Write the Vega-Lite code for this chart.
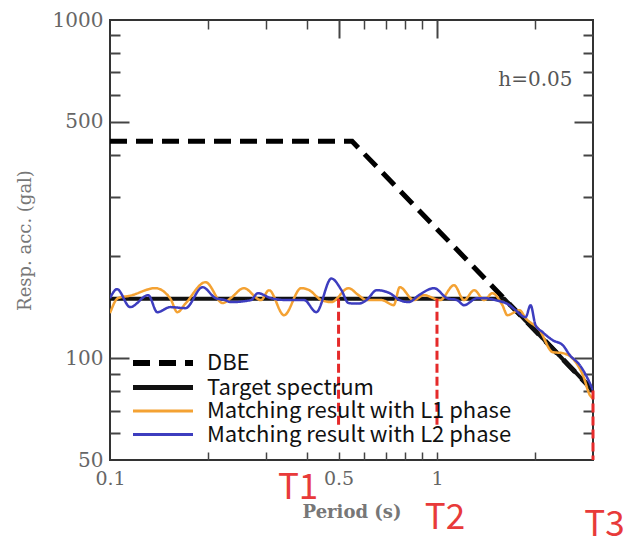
{
  "$schema": "https://vega.github.io/schema/vega-lite/v6.json",
  "width": 483,
  "height": 440,
  "autosize": "none",
  "padding": {"left": 110, "top": 20, "right": 41, "bottom": 84},
  "background": "white",
  "config": {"view": {"stroke": "#333333", "strokeWidth": 2}},
  "datasets": {
    "dbe": [
      {"series": "DBE", "T": 0.1, "V": 438},
      {"series": "DBE", "T": 0.55, "V": 438},
      {"series": "DBE", "T": 3.0, "V": 80.3}
    ],
    "target": [
      {"series": "Target spectrum", "T": 0.1, "V": 150},
      {"series": "Target spectrum", "T": 1.606, "V": 150},
      {"series": "Target spectrum", "T": 3.0, "V": 80.3}
    ],
    "l1": [
      {"series": "Matching result with L1 phase", "T": 0.1, "V": 135.9},
      {"series": "Matching result with L1 phase", "T": 0.1058, "V": 150.5},
      {"series": "Matching result with L1 phase", "T": 0.1152, "V": 153},
      {"series": "Matching result with L1 phase", "T": 0.1375, "V": 161.1},
      {"series": "Matching result with L1 phase", "T": 0.153, "V": 150},
      {"series": "Matching result with L1 phase", "T": 0.1607, "V": 136.8},
      {"series": "Matching result with L1 phase", "T": 0.1701, "V": 145},
      {"series": "Matching result with L1 phase", "T": 0.196, "V": 167.8},
      {"series": "Matching result with L1 phase", "T": 0.2211, "V": 145.5},
      {"series": "Matching result with L1 phase", "T": 0.234, "V": 150.5},
      {"series": "Matching result with L1 phase", "T": 0.2566, "V": 161.1},
      {"series": "Matching result with L1 phase", "T": 0.2895, "V": 148.5},
      {"series": "Matching result with L1 phase", "T": 0.3064, "V": 158.9},
      {"series": "Matching result with L1 phase", "T": 0.3406, "V": 134},
      {"series": "Matching result with L1 phase", "T": 0.3842, "V": 161.1},
      {"series": "Matching result with L1 phase", "T": 0.4067, "V": 158.9},
      {"series": "Matching result with L1 phase", "T": 0.4429, "V": 148.5},
      {"series": "Matching result with L1 phase", "T": 0.4753, "V": 146.5},
      {"series": "Matching result with L1 phase", "T": 0.5362, "V": 161.1},
      {"series": "Matching result with L1 phase", "T": 0.5754, "V": 153.6},
      {"series": "Matching result with L1 phase", "T": 0.6089, "V": 148.5},
      {"series": "Matching result with L1 phase", "T": 0.6773, "V": 148.5},
      {"series": "Matching result with L1 phase", "T": 0.7374, "V": 143.5},
      {"series": "Matching result with L1 phase", "T": 0.7694, "V": 162.2},
      {"series": "Matching result with L1 phase", "T": 0.8495, "V": 148.5},
      {"series": "Matching result with L1 phase", "T": 0.912, "V": 153.6},
      {"series": "Matching result with L1 phase", "T": 1.0214, "V": 148.5},
      {"series": "Matching result with L1 phase", "T": 1.128, "V": 164.4},
      {"series": "Matching result with L1 phase", "T": 1.21, "V": 148.5},
      {"series": "Matching result with L1 phase", "T": 1.3, "V": 158.9},
      {"series": "Matching result with L1 phase", "T": 1.395, "V": 148.5},
      {"series": "Matching result with L1 phase", "T": 1.476, "V": 155.7},
      {"series": "Matching result with L1 phase", "T": 1.585, "V": 143.5},
      {"series": "Matching result with L1 phase", "T": 1.642, "V": 134},
      {"series": "Matching result with L1 phase", "T": 1.788, "V": 138.7},
      {"series": "Matching result with L1 phase", "T": 1.866, "V": 131.3},
      {"series": "Matching result with L1 phase", "T": 2.06, "V": 121},
      {"series": "Matching result with L1 phase", "T": 2.259, "V": 104.2},
      {"series": "Matching result with L1 phase", "T": 2.424, "V": 103.5},
      {"series": "Matching result with L1 phase", "T": 2.658, "V": 97.3},
      {"series": "Matching result with L1 phase", "T": 2.794, "V": 89.1},
      {"series": "Matching result with L1 phase", "T": 2.936, "V": 77.7},
      {"series": "Matching result with L1 phase", "T": 3.0, "V": 76.1}
    ],
    "l2": [
      {"series": "Matching result with L2 phase", "T": 0.1, "V": 150.5},
      {"series": "Matching result with L2 phase", "T": 0.1051, "V": 160},
      {"series": "Matching result with L2 phase", "T": 0.1152, "V": 141.6},
      {"series": "Matching result with L2 phase", "T": 0.1309, "V": 153.6},
      {"series": "Matching result with L2 phase", "T": 0.1395, "V": 136.8},
      {"series": "Matching result with L2 phase", "T": 0.153, "V": 141.6},
      {"series": "Matching result with L2 phase", "T": 0.1701, "V": 140.6},
      {"series": "Matching result with L2 phase", "T": 0.1919, "V": 162.2},
      {"series": "Matching result with L2 phase", "T": 0.2104, "V": 150.5},
      {"series": "Matching result with L2 phase", "T": 0.225, "V": 148.5},
      {"series": "Matching result with L2 phase", "T": 0.234, "V": 146.5},
      {"series": "Matching result with L2 phase", "T": 0.2697, "V": 148.5},
      {"series": "Matching result with L2 phase", "T": 0.2834, "V": 155.7},
      {"series": "Matching result with L2 phase", "T": 0.3106, "V": 150.5},
      {"series": "Matching result with L2 phase", "T": 0.3504, "V": 148.5},
      {"series": "Matching result with L2 phase", "T": 0.3925, "V": 148.5},
      {"series": "Matching result with L2 phase", "T": 0.4274, "V": 136.8},
      {"series": "Matching result with L2 phase", "T": 0.4753, "V": 172},
      {"series": "Matching result with L2 phase", "T": 0.5104, "V": 158.9},
      {"series": "Matching result with L2 phase", "T": 0.5362, "V": 145.5},
      {"series": "Matching result with L2 phase", "T": 0.5754, "V": 145},
      {"series": "Matching result with L2 phase", "T": 0.6089, "V": 148.5},
      {"series": "Matching result with L2 phase", "T": 0.6539, "V": 158.9},
      {"series": "Matching result with L2 phase", "T": 0.7168, "V": 155.7},
      {"series": "Matching result with L2 phase", "T": 0.7694, "V": 148.5},
      {"series": "Matching result with L2 phase", "T": 0.82, "V": 146.5},
      {"series": "Matching result with L2 phase", "T": 0.8805, "V": 153.6},
      {"series": "Matching result with L2 phase", "T": 0.979, "V": 161.1},
      {"series": "Matching result with L2 phase", "T": 1.0735, "V": 150.5},
      {"series": "Matching result with L2 phase", "T": 1.152, "V": 148.5},
      {"series": "Matching result with L2 phase", "T": 1.21, "V": 143.5},
      {"series": "Matching result with L2 phase", "T": 1.328, "V": 150.5},
      {"series": "Matching result with L2 phase", "T": 1.395, "V": 150.5},
      {"series": "Matching result with L2 phase", "T": 1.508, "V": 148.5},
      {"series": "Matching result with L2 phase", "T": 1.666, "V": 143.5},
      {"series": "Matching result with L2 phase", "T": 1.738, "V": 138.7},
      {"series": "Matching result with L2 phase", "T": 1.866, "V": 132.2},
      {"series": "Matching result with L2 phase", "T": 1.933, "V": 143.5},
      {"series": "Matching result with L2 phase", "T": 2.002, "V": 125.2},
      {"series": "Matching result with L2 phase", "T": 2.104, "V": 119.4},
      {"series": "Matching result with L2 phase", "T": 2.259, "V": 113},
      {"series": "Matching result with L2 phase", "T": 2.424, "V": 109.3},
      {"series": "Matching result with L2 phase", "T": 2.548, "V": 102.1},
      {"series": "Matching result with L2 phase", "T": 2.735, "V": 95.3},
      {"series": "Matching result with L2 phase", "T": 2.854, "V": 89.1},
      {"series": "Matching result with L2 phase", "T": 3.0, "V": 80.4}
    ],
    "marks": [
      {"name": "T1", "T": 0.5, "V": 150, "V2": 62},
      {"name": "T2", "T": 1.0, "V": 150, "V2": 62},
      {"name": "T3", "T": 3.0, "V": 80.3, "V2": 50}
    ],
    "labels": [
      {"label": "T1", "T": 0.376, "V": 41.2},
      {"label": "T2", "T": 1.058, "V": 33.8},
      {"label": "T3", "T": 3.25, "V": 32.1}
    ],
    "note": [
      {"label": "h=0.05", "T": 2.0, "V": 664}
    ]
  },
  "resolve": {"axis": {"x": "independent", "y": "independent"}},
  "layer": [
    {
      "data": {"name": "dbe"},
      "mark": {"type": "line", "strokeWidth": 5, "clip": true},
      "encoding": {
        "x": {"field": "T", "type": "quantitative",
          "scale": {"type": "log", "domain": [0.1, 3], "nice": false},
          "axis": {"orient": "bottom", "values": [0.1, 0.5, 1], "format": "~g", "ticks": false, "domain": false, "grid": false,
            "labelFont": "DejaVu Serif", "labelFontSize": 19, "labelColor": "#666666", "labelPadding": 9, "labelFlush": false, "labelOverlap": false,
            "title": "Period (s)", "titleFont": "DejaVu Serif", "titleFontSize": 18, "titleFontWeight": "bold", "titleColor": "#777777", "titlePadding": 15}},
        "y": {"field": "V", "type": "quantitative",
          "scale": {"type": "log", "domain": [50, 1000], "nice": false},
          "axis": {"orient": "left", "values": [50, 100, 500, 1000], "format": "~g", "ticks": false, "domain": false, "grid": false,
            "labelFont": "DejaVu Serif", "labelFontSize": 20, "labelColor": "#666666", "labelPadding": 7, "labelFlush": false, "labelOverlap": false,
            "title": "Resp. acc. (gal)", "titleFont": "DejaVu Serif", "titleFontSize": 18, "titleFontWeight": "normal", "titleColor": "#777777", "titlePadding": 18}},
        "color": {"field": "series", "type": "nominal",
          "scale": {"domain": ["DBE", "Target spectrum", "Matching result with L1 phase", "Matching result with L2 phase"],
                    "range": ["#000000", "#111111", "#f4a233", "#3d3dbf"]},
          "legend": {"orient": "none", "legendX": 42, "legendY": 332, "title": null,
            "symbolType": "M-3,0H3", "symbolSize": 400,
            "rowPadding": 1.5, "labelFont": "Noto Sans CJK JP", "labelFontSize": 22, "labelColor": "#111111",
            "labelOffset": 33, "labelLimit": 0, "padding": 0, "symbolStrokeWidth": 3.5,
            "encode": {"symbols": {"update": {"fill": {"value": "transparent"}, "strokeWidth": {"signal": "datum.value === 'DBE' ? 6 : datum.value === 'Target spectrum' ? 5 : 3"}}}}}},
        "strokeDash": {"field": "series", "type": "nominal",
          "scale": {"domain": ["DBE", "Target spectrum", "Matching result with L1 phase", "Matching result with L2 phase"],
                    "range": [[17, 9], [1, 0], [1, 0], [1, 0]]}}
      }
    },
    {
      "data": {"name": "target"},
      "mark": {"type": "line", "strokeWidth": 4, "clip": true},
      "encoding": {
        "x": {"field": "T", "type": "quantitative",
          "scale": {"type": "log", "domain": [0.1, 3], "nice": false},
          "axis": {"orient": "bottom", "values": [0.2, 0.3, 0.4, 0.5, 0.6, 0.7, 0.8, 0.9, 1, 2], "labels": false, "domain": false, "grid": false,
            "tickSize": 8, "offset": -8, "tickColor": "#444444", "tickWidth": 1.5, "title": null}},
        "y": {"field": "V", "type": "quantitative",
          "scale": {"type": "log", "domain": [50, 1000], "nice": false},
          "axis": {"orient": "left", "values": [100, 500], "labels": false, "domain": false, "grid": false,
            "tickSize": 19, "offset": -19, "tickColor": "#444444", "tickWidth": 2, "title": null}},
        "color": {"field": "series", "type": "nominal"},
        "strokeDash": {"field": "series", "type": "nominal"}
      }
    },
    {
      "data": {"name": "l1"},
      "mark": {"type": "line", "strokeWidth": 2.5, "interpolate": "monotone", "clip": true},
      "encoding": {
        "x": {"field": "T", "type": "quantitative",
          "scale": {"type": "log", "domain": [0.1, 3], "nice": false},
          "axis": {"orient": "top", "values": [0.5, 1], "labels": false, "domain": false, "grid": false,
            "tickSize": 18, "offset": -18, "tickColor": "#444444", "tickWidth": 2, "title": null}},
        "y": {"field": "V", "type": "quantitative",
          "scale": {"type": "log", "domain": [50, 1000], "nice": false},
          "axis": {"orient": "left", "values": [60, 70, 80, 90, 200, 300, 400, 600, 700, 800, 900], "labels": false, "domain": false, "grid": false,
            "tickSize": 10, "offset": -10, "tickColor": "#444444", "tickWidth": 2, "title": null}},
        "color": {"field": "series", "type": "nominal"},
        "strokeDash": {"field": "series", "type": "nominal"}
      }
    },
    {
      "data": {"name": "l2"},
      "mark": {"type": "line", "strokeWidth": 2.5, "interpolate": "monotone", "clip": true},
      "encoding": {
        "x": {"field": "T", "type": "quantitative",
          "scale": {"type": "log", "domain": [0.1, 3], "nice": false},
          "axis": {"orient": "top", "values": [0.2, 0.3, 0.4, 0.6, 0.7, 0.8, 0.9, 2], "labels": false, "domain": false, "grid": false,
            "tickSize": 9, "offset": -9, "tickColor": "#444444", "tickWidth": 1.5, "title": null}},
        "y": {"field": "V", "type": "quantitative",
          "scale": {"type": "log", "domain": [50, 1000], "nice": false},
          "axis": {"orient": "right", "values": [100, 500], "labels": false, "domain": false, "grid": false,
            "tickSize": 19, "offset": -19, "tickColor": "#444444", "tickWidth": 2, "title": null}},
        "color": {"field": "series", "type": "nominal"},
        "strokeDash": {"field": "series", "type": "nominal"}
      }
    },
    {
      "data": {"name": "marks"},
      "mark": {"type": "rule", "color": "#e52a2a", "strokeWidth": 3, "strokeDash": [9, 4]},
      "encoding": {
        "x": {"field": "T", "type": "quantitative",
          "scale": {"type": "log", "domain": [0.1, 3], "nice": false}, "axis": null},
        "y": {"field": "V", "type": "quantitative",
          "scale": {"type": "log", "domain": [50, 1000], "nice": false},
          "axis": {"orient": "right", "values": [60, 70, 80, 90, 200, 300, 400, 600, 700, 800, 900], "labels": false, "domain": false, "grid": false,
            "tickSize": 10, "offset": -10, "tickColor": "#444444", "tickWidth": 2, "title": null}},
        "y2": {"field": "V2"}
      }
    },
    {
      "data": {"name": "labels"},
      "mark": {"type": "text", "color": "#e83a3a", "font": "Noto Sans CJK JP", "fontSize": 35, "align": "center", "baseline": "middle"},
      "encoding": {
        "x": {"field": "T", "type": "quantitative",
          "scale": {"type": "log", "domain": [0.1, 3], "nice": false}, "axis": null},
        "y": {"field": "V", "type": "quantitative",
          "scale": {"type": "log", "domain": [50, 1000], "nice": false}, "axis": null},
        "text": {"field": "label"}
      }
    },
    {
      "data": {"name": "note"},
      "mark": {"type": "text", "color": "#555555", "font": "DejaVu Serif", "fontSize": 20, "align": "center", "baseline": "middle"},
      "encoding": {
        "x": {"field": "T", "type": "quantitative",
          "scale": {"type": "log", "domain": [0.1, 3], "nice": false}, "axis": null},
        "y": {"field": "V", "type": "quantitative",
          "scale": {"type": "log", "domain": [50, 1000], "nice": false}, "axis": null},
        "text": {"field": "label"}
      }
    }
  ]
}
